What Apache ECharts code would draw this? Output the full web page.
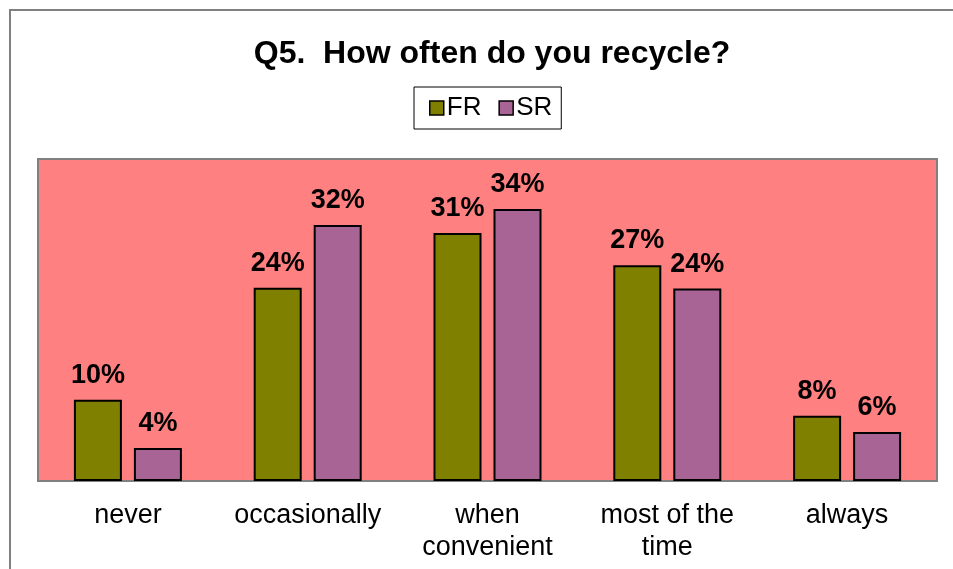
<!DOCTYPE html>
<html>
<head>
<meta charset="utf-8">
<script src="https://cdn.jsdelivr.net/npm/echarts@6/dist/echarts.min.js"></script>
<style>
  html, body { margin: 0; padding: 0; background: #fff; }
  #main { width: 953px; height: 569px; }
</style>
</head>
<body>
<div id="main"></div>
<script>
var categories = ['never', 'occasionally', 'when\nconvenient', 'most of the\ntime', 'always'];
var frValues = [10.1, 24.0, 30.8, 26.8, 8.1];
var srValues = [4.1, 31.8, 33.8, 23.9, 6.1];

var labelFont = 'Arial, "Liberation Sans", sans-serif';

var barLabel = {
	show: true,
	position: 'top',
	distance: 11,
	fontFamily: labelFont,
	fontSize: 27,
	fontWeight: 'bold',
	color: '#000',
	formatter: function (p) { return Math.round(p.value) + '%'; }
};

var myChart = echarts.init(document.getElementById('main'));
var option = {
	animation: false,
	backgroundColor: '#fff',
	title: {
		text: 'Q5.  How often do you recycle?',
		left: 487,
		textAlign: 'center',
		top: 33,
		textStyle: {
			fontFamily: labelFont,
			fontSize: 32,
			fontWeight: 'bold',
			color: '#000'
		}
	},
	legend: {
		left: 414,
		top: 87,
		padding: [8, 9, 8, 15],
		itemGap: 17,
		itemWidth: 14,
		itemHeight: 14,
		icon: 'rect',
		borderColor: '#000',
		borderWidth: 1,
		backgroundColor: '#fff',
		itemStyle: { borderColor: '#000', borderWidth: 1.5 },
		textStyle: { fontFamily: labelFont, fontSize: 26, color: '#000', padding: [0, 0, 0, -2] },
		data: ['FR', 'SR']
	},
	graphic: [{
		type: 'rect',
		shape: { x: 10, y: 10, width: 1000, height: 1000 },
		style: { fill: 'none', stroke: '#808080', lineWidth: 2 },
		z: 100
	}],
	grid: {
		left: 38,
		top: 159,
		width: 899,
		height: 322,
		show: true,
		backgroundColor: '#FF8080',
		borderColor: '#808080',
		borderWidth: 2
	},
	xAxis: {
		type: 'category',
		data: categories,
		axisLine: { lineStyle: { color: '#808080', width: 2 } },
		axisTick: { show: false },
		axisLabel: {
			interval: 0,
			margin: 19,
			fontFamily: labelFont,
			fontSize: 27,
			lineHeight: 32,
			color: '#000'
		}
	},
	yAxis: {
		type: 'value',
		min: 0,
		max: 40,
		show: false,
		splitLine: { show: false }
	},
	series: [{
		name: 'FR',
		type: 'bar',
		data: frValues,
		barWidth: 48,
		barGap: '25%',
		itemStyle: { color: '#808000', borderColor: '#000', borderWidth: 2 },
		label: barLabel
	}, {
		name: 'SR',
		type: 'bar',
		data: srValues,
		barWidth: 48,
		itemStyle: { color: '#A86494', borderColor: '#000', borderWidth: 2 },
		label: barLabel
	}]
};
myChart.setOption(option);
</script>
</body>
</html>
